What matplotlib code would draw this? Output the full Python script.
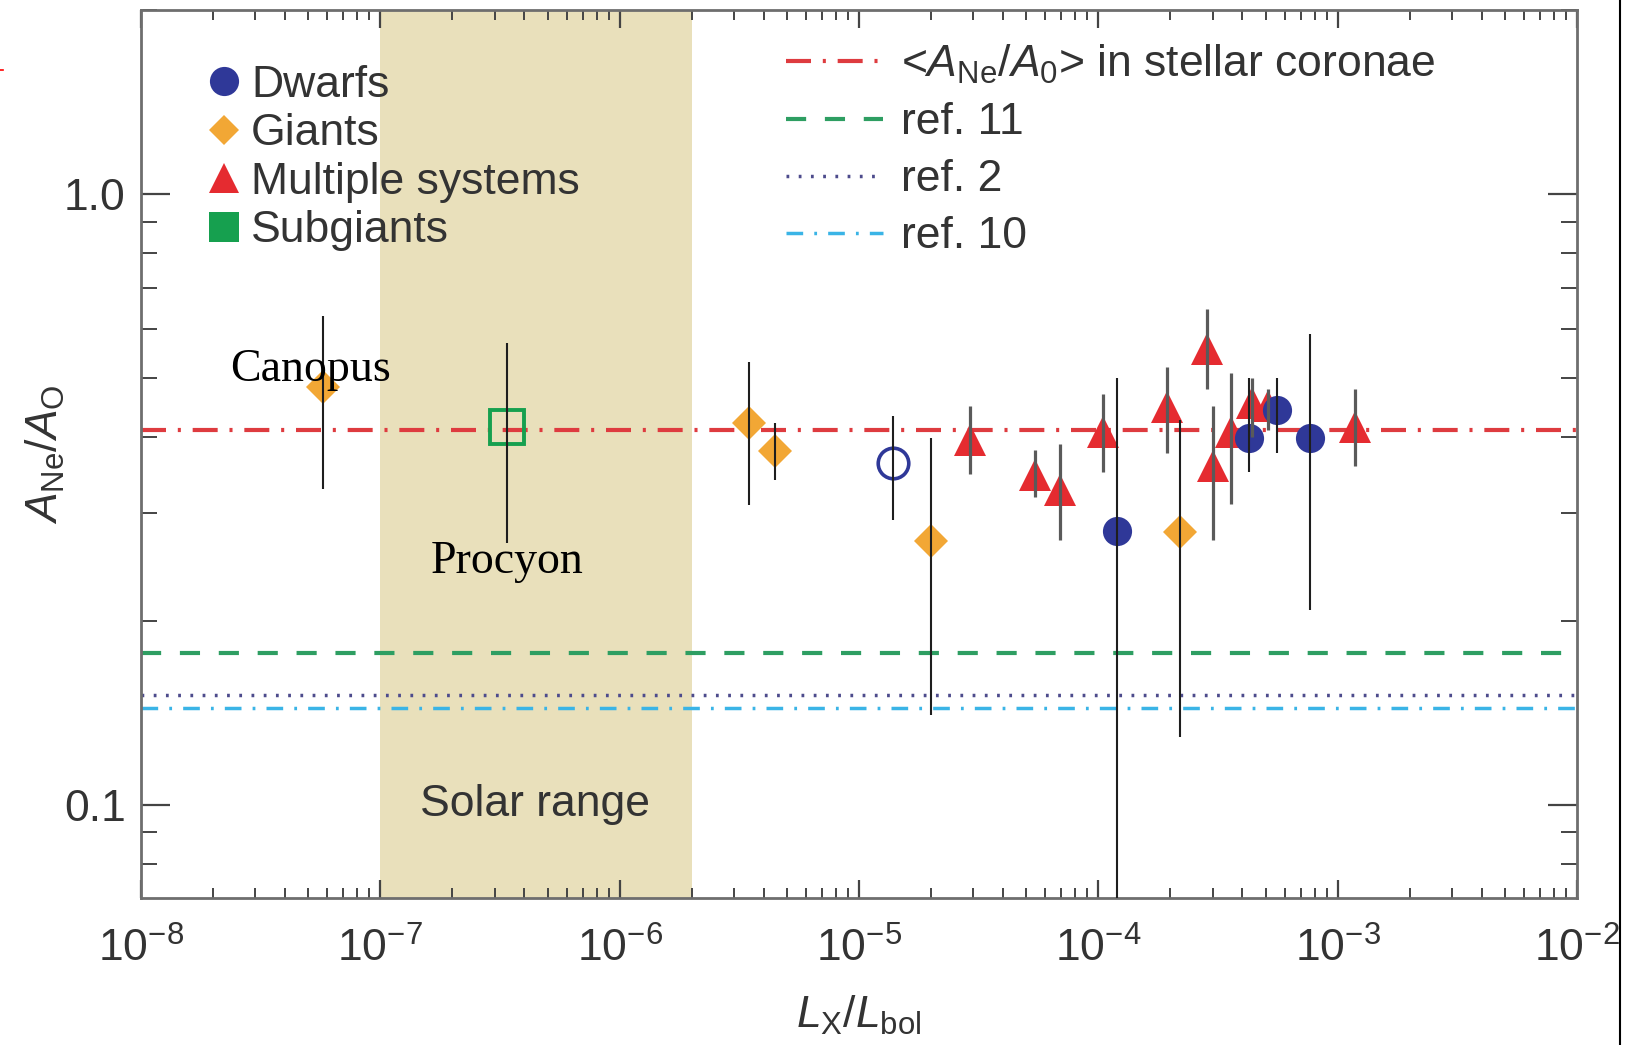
import numpy as np
import matplotlib
matplotlib.use("Agg")
import matplotlib.pyplot as plt
from matplotlib.lines import Line2D
from matplotlib.patches import Rectangle
from matplotlib.ticker import LogLocator, NullFormatter

plt.rcParams["font.family"] = ["Liberation Sans", "DejaVu Sans"]
plt.rcParams["mathtext.fontset"] = "custom"
plt.rcParams["mathtext.rm"] = "Liberation Sans"
plt.rcParams["mathtext.it"] = "Liberation Sans:italic"
plt.rcParams["mathtext.bf"] = "Liberation Sans:bold"
plt.rcParams["lines.scale_dashes"] = False
plt.rcParams["text.color"] = "#333333"

# data
dwarf_x = [1.20e-4, 4.27e-4, 5.58e-4, 7.65e-4]
dwarf_y = [0.281, 0.399, 0.442, 0.399]
dwarf_lo = [0.05, 0.350, 0.377, 0.208]
dwarf_hi = [0.500, 0.499, 0.500, 0.590]

dwarf_open_x = [1.39e-5]
dwarf_open_y = [0.363]
dwarf_open_lo = [0.292]
dwarf_open_hi = [0.432]

giant_x = [5.75e-8, 3.47e-6, 4.46e-6, 2.0e-5, 2.19e-4]
giant_y = [0.482, 0.421, 0.379, 0.270, 0.279]
giant_lo = [0.329, 0.309, 0.340, 0.140, 0.129]
giant_hi = [0.632, 0.530, 0.421, 0.399, 0.426]

multi_x = [2.91e-5, 5.43e-5, 6.92e-5, 1.05e-4, 1.94e-4, 2.84e-4,
           3.01e-4, 3.58e-4, 4.39e-4, 5.12e-4, 1.18e-3]
multi_y = [0.395, 0.346, 0.327, 0.407, 0.447, 0.558,
           0.359, 0.407, 0.455, 0.450, 0.415]
multi_lo = [0.348, 0.319, 0.271, 0.350, 0.377, 0.480,
            0.271, 0.311, 0.400, 0.410, 0.359]
multi_hi = [0.450, 0.380, 0.390, 0.471, 0.520, 0.649,
            0.450, 0.508, 0.500, 0.480, 0.480]

subgiant_x = [3.38e-7]
subgiant_y = [0.415]
subgiant_lo = [0.268]
subgiant_hi = [0.569]

level_coronae = 0.411
level_ref11 = 0.177
level_ref2 = 0.151
level_ref10 = 0.144

solar_lo, solar_hi = 1e-7, 2e-6

blue = "#2f3898"
orange = "#f2a735"
red = "#e52b30"
green = "#16a04f"

fig = plt.figure(figsize=(16.38, 10.45), dpi=100)
ax = fig.add_axes([0.0861, 0.1407, 0.8767, 0.8497])
ax.set_xscale("log")
ax.set_yscale("log")
ax.set_xlim(1e-8, 1e-2)
ax.set_ylim(0.0703, 2.0)

ax.axvspan(solar_lo, solar_hi, color="#e9e0bb", lw=0, zorder=0)
ax.text(np.sqrt(solar_lo * solar_hi) * 0.99, 0.1, "Solar range", fontsize=32,
        ha="center", va="center", color="#333333")

l_cor = ax.axhline(level_coronae, color="#de3b3f", lw=3, ls=(0, (18, 8.5, 2.2, 8.5)), zorder=2)
l_11 = ax.axhline(level_ref11, color="#2e9e62", lw=3, ls=(0, (14.5, 13.5)), zorder=2)
l_2 = ax.axhline(level_ref2, color="#4d4b8c", lw=2.5, ls=(0, (2, 6.8)), zorder=2)
l_10 = ax.axhline(level_ref10, color="#3ab4e6", lw=2.5, ls=(0, (12, 8, 2, 8)), zorder=2)

# error bars
ax.vlines(multi_x, multi_lo, multi_hi, color="#5a5a5a", lw=2.3, zorder=4)
ax.vlines(dwarf_x, dwarf_lo, dwarf_hi, color="#1e1e1e", lw=1.5, zorder=4)
ax.vlines(dwarf_open_x, dwarf_open_lo, dwarf_open_hi, color="#1e1e1e", lw=1.5, zorder=4)
ax.vlines(giant_x, giant_lo, giant_hi, color="#1e1e1e", lw=1.5, zorder=4)
ax.vlines(subgiant_x, subgiant_lo, subgiant_hi, color="#1e1e1e", lw=1.5, zorder=4)

# markers
ax.plot(multi_x, multi_y, ls="none", marker="^", ms=23, color=red, mew=0, zorder=3)
ax.plot(dwarf_x, dwarf_y, ls="none", marker="o", ms=21, color=blue, mew=0, zorder=3)
ax.plot(dwarf_open_x, dwarf_open_y, ls="none", marker="o", ms=22, mfc="none",
        mec=blue, mew=2.6, zorder=3)
ax.plot(giant_x, giant_y, ls="none", marker="D", ms=17, color=orange, mew=0, zorder=3)
ax.plot(subgiant_x, subgiant_y, ls="none", marker="s", ms=25, mfc="none",
        mec=green, mew=2.8, zorder=3)

ax.text(5.13e-8, 0.516, "Canopus", family="Liberation Serif", fontsize=33,
        color="black", ha="center", va="center", zorder=5)
ax.text(3.38e-7, 0.250, "Procyon", family="Liberation Serif", fontsize=33,
        color="black", ha="center", va="center", zorder=5)

# legends
h_markers = [
    Line2D([], [], ls="none", marker="o", ms=21, color=blue, mew=0),
    Line2D([], [], ls="none", marker="D", ms=15, color=orange, mew=0),
    Line2D([], [], ls="none", marker="^", ms=21, color=red, mew=0),
    Line2D([], [], ls="none", marker="s", ms=21, color=green, mew=0),
]
leg1 = ax.legend(h_markers, ["Dwarfs", "Giants", "Multiple systems", "Subgiants"],
                 loc="upper left", bbox_to_anchor=(0.0453, 0.9385), frameon=False,
                 fontsize=32, handlelength=0.8, handletextpad=0.21,
                 labelspacing=0.17, borderpad=0, borderaxespad=0)
for t in leg1.get_texts():
    t.set_color("#333333")
ax.add_artist(leg1)

leg2 = ax.legend([l_cor, l_11, l_2, l_10],
                 [r"<$A_{\rm Ne}/A_{\rm 0}$> in stellar coronae", "ref. 11", "ref. 2", "ref. 10"],
                 loc="upper left", bbox_to_anchor=(0.4492, 0.963), frameon=False,
                 fontsize=32, handlelength=2.18, handletextpad=0.4,
                 labelspacing=0.36, borderpad=0, borderaxespad=0)
for t in leg2.get_texts():
    t.set_color("#333333")

# axes styling
for sp in ax.spines.values():
    sp.set_color("#6e6e6e")
    sp.set_linewidth(2)

ax.xaxis.set_major_locator(LogLocator(base=10, numticks=20))
ax.xaxis.set_minor_locator(LogLocator(base=10, subs=np.arange(2, 10) * 1.0, numticks=100))
ax.xaxis.set_minor_formatter(NullFormatter())
ax.set_yticks([0.1, 1.0])
ax.set_yticklabels(["0.1", "1.0"])
ax.yaxis.set_minor_locator(LogLocator(base=10, subs=np.arange(2, 10) * 1.0, numticks=100))
ax.yaxis.set_minor_formatter(NullFormatter())

ax.tick_params(axis="x", which="major", direction="in", length=13, width=1.6,
               color="#444444", top=True, labelsize=32, pad=21, labelcolor="#333333")
ax.tick_params(axis="x", which="minor", direction="in", length=7, width=1.4,
               color="#444444", top=True)
ax.tick_params(axis="y", which="major", direction="in", length=21, width=1.6,
               color="#444444", right=True, labelsize=32, pad=11, labelcolor="#333333")
ax.tick_params(axis="y", which="minor", direction="in", length=11.5, width=1.4,
               color="#444444", right=True)

ax.set_xlabel(r"$L_{\rm X}/L_{\rm bol}$", fontsize=32, labelpad=17, color="#333333")
ax.set_ylabel(r"$A_{\rm Ne}/A_{\rm O}$", fontsize=32, labelpad=-2, color="#333333")

# cropped border of the original scan
fig.add_artist(Rectangle((1621 / 1638, 0), 1, 1, transform=fig.transFigure,
                         facecolor="white", edgecolor="none", zorder=10))
fig.add_artist(Line2D([1620 / 1638, 1620 / 1638], [0, 1], transform=fig.transFigure,
                      color="black", lw=1.5, zorder=11))
fig.add_artist(Line2D([0, 3 / 1638], [1 - 70 / 1045, 1 - 70 / 1045],
                      transform=fig.transFigure, color="red", lw=1.2, zorder=11))

fig.savefig("out.png", dpi=100)
